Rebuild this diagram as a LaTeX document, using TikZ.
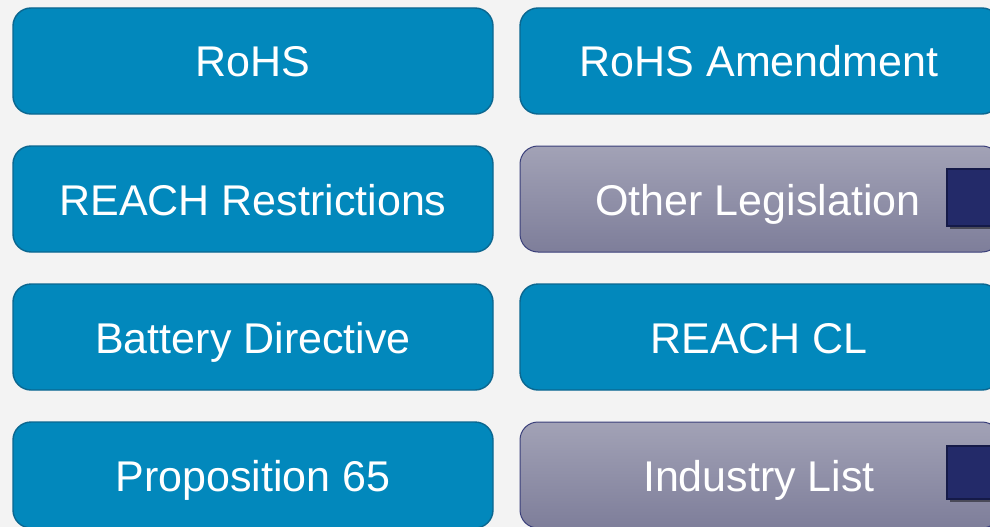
\documentclass[tikz,border=0pt]{standalone}
\usepackage{fontspec}
\setmainfont{Liberation Sans}
\usetikzlibrary{shadows}
\definecolor{bg}{HTML}{F3F3F3}
\definecolor{bluefill}{HTML}{0288BC}
\definecolor{blueedge}{HTML}{0B6790}
\definecolor{graytop}{HTML}{A2A2B6}
\definecolor{graybot}{HTML}{7E7E9A}
\definecolor{grayedge}{HTML}{3A3F7A}
\definecolor{sqfill}{HTML}{232A69}
\definecolor{sqedge}{HTML}{151A48}
\tikzset{
  bluebox/.style={draw=blueedge, line width=1.4pt, fill=bluefill, rounded corners=18pt},
  graybox/.style={draw=grayedge, line width=1pt, top color=graytop, bottom color=graybot, rounded corners=18pt},
  sqbox/.style={draw=sqedge, line width=1.5pt, fill=sqfill, drop shadow={shadow xshift=3pt, shadow yshift=-3pt, opacity=0.45, fill=black}},
  lbl/.style={text=white, font=\fontsize{43}{50}\selectfont, anchor=base, inner sep=0pt}
}
\begin{document}
\begin{tikzpicture}[x=1pt,y=-1pt]
\useasboundingbox (0,0) rectangle (990,527);
\fill[bg] (0,0) rectangle (990,527);
\clip (0,0) rectangle (990,527);
% left column
\draw[bluebox] (13,8) rectangle (493,114);
\node[lbl] (rohs) at (253,77) {RoHS};
\draw[bluebox] (13,146) rectangle (493,252);
\node[lbl] (reachr) at (253,215) {REACH Restrictions};
\draw[bluebox] (13,284) rectangle (493,390);
\node[lbl] (battery) at (253,353) {Battery Directive};
\draw[bluebox] (13,422) rectangle (493,528);
\node[lbl] (prop) at (253,491) {Proposition 65};
% right column
\draw[bluebox] (520,8) rectangle (1000,114);
\node[lbl] (rohsa) at (759,77) {RoHS Amendment};
\draw[graybox] (520,146) rectangle (1000,252);
\node[lbl] (other) at (758,215) {Other Legislation};
\draw[sqbox] (947,169) rectangle (1004,226);
\draw[bluebox] (520,284) rectangle (1000,390);
\node[lbl] (reachcl) at (759,353) {REACH CL};
\draw[graybox] (520,422) rectangle (1000,528);
\node[lbl] (industry) at (759,491) {Industry List};
\draw[sqbox] (947,446) rectangle (1004,499);
\end{tikzpicture}
\end{document}
